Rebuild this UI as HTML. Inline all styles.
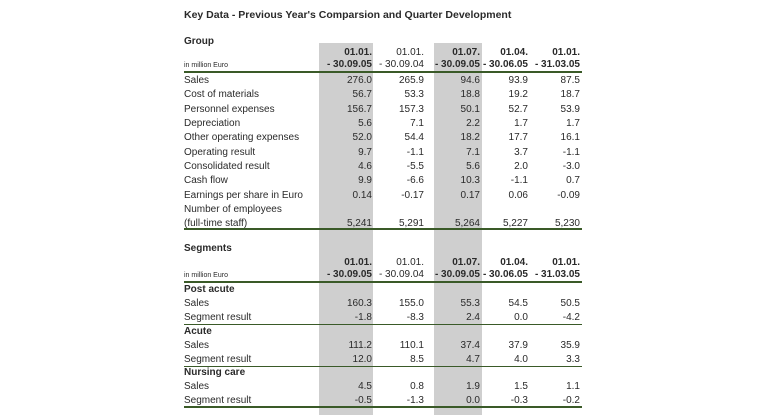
<!DOCTYPE html>
<html><head><meta charset="utf-8"><style>
body{margin:0;background:#fff;width:767px;height:415px;overflow:hidden;position:relative;font-family:"Liberation Sans",Arial,sans-serif;color:#2a2a2a}
.g{position:absolute;background:#cfcfcf;top:43px;height:372px}
.t{position:absolute;left:184px;font-size:10px;line-height:14px;white-space:nowrap}
.v{position:absolute;font-size:10px;line-height:14px;text-align:right;white-space:nowrap}
.k{line-height:14.35px}
.b{font-weight:bold}
.s{font-size:7px}
.L{position:absolute;left:184px;width:398px;background:#3a5a28}
</style></head><body>
<div class="g" style="left:319px;width:54px"></div>
<div class="g" style="left:434px;width:48px"></div>
<div class="t b" style="top:8px;font-size:10.5px">Key Data - Previous Year's Comparsion and Quarter Development</div>
<div class="t b" style="top:35px">Group</div>

<div class="v b" style="top:46px;right:395px">01.01.</div>
<div class="v" style="top:46px;right:343px">01.01.</div>
<div class="v b" style="top:46px;right:287px">01.07.</div>
<div class="v b" style="top:46px;right:239px">01.04.</div>
<div class="v b" style="top:46px;right:187px">01.01.</div>
<div class="t s" style="top:59px">in million Euro</div>
<div class="v b" style="top:58px;right:395px">- 30.09.05</div>
<div class="v" style="top:58px;right:343px">- 30.09.04</div>
<div class="v b" style="top:58px;right:287px">- 30.09.05</div>
<div class="v b" style="top:58px;right:239px">- 30.06.05</div>
<div class="v b" style="top:58px;right:187px">- 31.03.05</div>
<div class="L" style="top:71px;height:2px"></div>

<div class="t k" style="top:74px">Sales<br>Cost of materials<br>Personnel expenses<br>Depreciation<br>Other operating expenses<br>Operating result<br>Consolidated result<br>Cash flow<br>Earnings per share in Euro<br>Number of employees<br>(full-time staff)</div>
<div class="v k" style="top:74px;right:395px">276.0<br>56.7<br>156.7<br>5.6<br>52.0<br>9.7<br>4.6<br>9.9<br>0.14<br><br>5,241</div>
<div class="v k" style="top:74px;right:343px">265.9<br>53.3<br>157.3<br>7.1<br>54.4<br>-1.1<br>-5.5<br>-6.6<br>-0.17<br><br>5,291</div>
<div class="v k" style="top:74px;right:287px">94.6<br>18.8<br>50.1<br>2.2<br>18.2<br>7.1<br>5.6<br>10.3<br>0.17<br><br>5,264</div>
<div class="v k" style="top:74px;right:239px">93.9<br>19.2<br>52.7<br>1.7<br>17.7<br>3.7<br>2.0<br>-1.1<br>0.06<br><br>5,227</div>
<div class="v k" style="top:74px;right:187px">87.5<br>18.7<br>53.9<br>1.7<br>16.1<br>-1.1<br>-3.0<br>0.7<br>-0.09<br><br>5,230</div>
<div class="L" style="top:228px;height:2px"></div>

<div class="t b" style="top:242px">Segments</div>
<div class="v b" style="top:256px;right:395px">01.01.</div>
<div class="v" style="top:256px;right:343px">01.01.</div>
<div class="v b" style="top:256px;right:287px">01.07.</div>
<div class="v b" style="top:256px;right:239px">01.04.</div>
<div class="v b" style="top:256px;right:187px">01.01.</div>
<div class="t s" style="top:269px">in million Euro</div>
<div class="v b" style="top:268px;right:395px">- 30.09.05</div>
<div class="v" style="top:268px;right:343px">- 30.09.04</div>
<div class="v b" style="top:268px;right:287px">- 30.09.05</div>
<div class="v b" style="top:268px;right:239px">- 30.06.05</div>
<div class="v b" style="top:268px;right:187px">- 31.03.05</div>
<div class="L" style="top:281px;height:2px"></div>

<div class="t b" style="top:283px">Post acute</div>
<div class="t" style="top:297px">Sales<br>Segment result</div>
<div class="v" style="top:297px;right:395px">160.3<br>-1.8</div>
<div class="v" style="top:297px;right:343px">155.0<br>-8.3</div>
<div class="v" style="top:297px;right:287px">55.3<br>2.4</div>
<div class="v" style="top:297px;right:239px">54.5<br>0.0</div>
<div class="v" style="top:297px;right:187px">50.5<br>-4.2</div>
<div class="L" style="top:324px;height:1px"></div>

<div class="t b" style="top:325px">Acute</div>
<div class="t" style="top:339px">Sales<br>Segment result</div>
<div class="v" style="top:339px;right:395px">111.2<br>12.0</div>
<div class="v" style="top:339px;right:343px">110.1<br>8.5</div>
<div class="v" style="top:339px;right:287px">37.4<br>4.7</div>
<div class="v" style="top:339px;right:239px">37.9<br>4.0</div>
<div class="v" style="top:339px;right:187px">35.9<br>3.3</div>
<div class="L" style="top:366px;height:1px"></div>

<div class="t b" style="top:366px">Nursing care</div>
<div class="t" style="top:380px">Sales<br>Segment result</div>
<div class="v" style="top:380px;right:395px">4.5<br>-0.5</div>
<div class="v" style="top:380px;right:343px">0.8<br>-1.3</div>
<div class="v" style="top:380px;right:287px">1.9<br>0.0</div>
<div class="v" style="top:380px;right:239px">1.5<br>-0.3</div>
<div class="v" style="top:380px;right:187px">1.1<br>-0.2</div>
<div class="L" style="top:406px;height:2px"></div>
</body></html>
